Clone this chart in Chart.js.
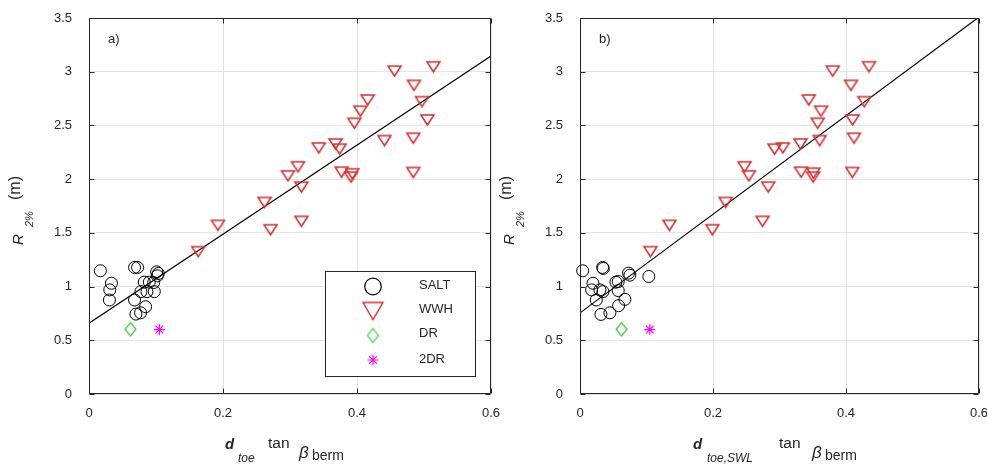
<!DOCTYPE html>
<html>
<head>
<meta charset="utf-8">
<script src="https://cdn.jsdelivr.net/npm/chart.js@4/dist/chart.umd.min.js"></script>
<style>
html, body { margin: 0; padding: 0; background: #ffffff; }
#wrap { position: relative; width: 987px; height: 465px; overflow: hidden; font-family: 'Liberation Sans', Arial, Helvetica, sans-serif; color: #262626; }
canvas { position: absolute; top: 0; }
.t { position: absolute; white-space: nowrap; line-height: 1; }
.rot { position: absolute; width: 0; height: 0; transform: rotate(-90deg); transform-origin: 0 0; }
</style>
</head>
<body>
<div id="wrap">
  <canvas id="cA" width="500" height="465" style="left:0px;width:500px;height:465px"></canvas>
  <canvas id="cB" width="496" height="465" style="left:491px;width:496px;height:465px"></canvas>
</div>
<script>
// ---------------- data ----------------
const seriesNames = ['SALT', 'WWH', 'DR', '2DR'];
const panelLabels = ['a)', 'b)'];
const xTickValues = [0, 0.2, 0.4, 0.6];
const xTickLabels = ['0', '0.2', '0.4', '0.6'];
const yTickValues = [0, 0.5, 1, 1.5, 2, 2.5, 3, 3.5];
const yTickLabels = ['0', '0.5', '1', '1.5', '2', '2.5', '3', '3.5'];

// panel a) : d_toe tan(beta_berm)
const saltX_a = [0.017, 0.0335, 0.031, 0.0305, 0.068, 0.0725, 0.068, 0.070, 0.077, 0.0845, 0.0775, 0.0825, 0.090, 0.0865, 0.0975, 0.0965, 0.101, 0.102, 0.1035];
const saltY_a = [1.147, 1.031, 0.969, 0.875, 1.178, 1.178, 0.875, 0.744, 0.756, 0.8125, 0.953, 1.041, 1.041, 0.953, 0.953, 1.0375, 1.137, 1.100, 1.122];
const wwhX_a = [0.456, 0.514, 0.485, 0.416, 0.497, 0.405, 0.505, 0.396, 0.441, 0.484, 0.343, 0.368, 0.374, 0.312, 0.297, 0.377, 0.393, 0.391, 0.484, 0.317, 0.262, 0.1925, 0.271, 0.317, 0.163];
const wwhY_a = [3.006, 3.046, 2.873, 2.737, 2.721, 2.632, 2.551, 2.520, 2.359, 2.381, 2.291, 2.328, 2.279, 2.115, 2.031, 2.065, 2.050, 2.019, 2.062, 1.926, 1.783, 1.570, 1.529, 1.607, 1.325];
const drX_a = [0.062];
const drY_a = [0.603];
const dr2X_a = [0.105];
const dr2Y_a = [0.600];

// panel b) : d_toe,SWL tan(beta_berm)
const saltX_b = [0.004, 0.0195, 0.0175, 0.0245, 0.034, 0.035, 0.0345, 0.0315, 0.045, 0.058, 0.0675, 0.0575, 0.054, 0.0575, 0.073, 0.075, 0.1035, 0.030];
const saltY_b = [1.147, 1.031, 0.969, 0.875, 1.178, 1.169, 0.953, 0.741, 0.756, 0.822, 0.881, 0.9625, 1.041, 1.047, 1.125, 1.106, 1.094, 0.969];
const wwhX_b = [0.380, 0.4345, 0.4075, 0.344, 0.4275, 0.3625, 0.410, 0.3575, 0.412, 0.3605, 0.3315, 0.2925, 0.305, 0.2475, 0.254, 0.3325, 0.351, 0.3505, 0.4095, 0.283, 0.219, 0.1345, 0.199, 0.2745, 0.106];
const wwhY_b = [3.006, 3.046, 2.873, 2.737, 2.721, 2.632, 2.551, 2.520, 2.381, 2.359, 2.328, 2.279, 2.291, 2.115, 2.031, 2.065, 2.056, 2.019, 2.062, 1.926, 1.783, 1.570, 1.529, 1.607, 1.325];
const drX_b = [0.0625];
const drY_b = [0.603];
const dr2X_b = [0.105];
const dr2Y_b = [0.600];

// linear fits R2% = intercept + slope * x  (panel a, panel b)
const fitIntercept = [0.658, 0.755];
const fitSlope = [4.147, 4.59];
const fitXRange = [0, 0.6];

// ---------------- styling ----------------
const RED = '#d42f2f';
const GREEN = '#33cc33';
const MAGENTA = '#ff00ff';
const AXIS = '#262626';
const GRID = '#e4e4e4';
const FONT = "'Liberation Sans', Arial, Helvetica, sans-serif";

function triImage(w, h, lw) {
  const c = document.createElement('canvas');
  c.width = w + 4; c.height = h + 4;
  const g = c.getContext('2d');
  g.strokeStyle = RED; g.lineWidth = lw; g.lineJoin = 'miter';
  g.beginPath(); g.moveTo(2, 2); g.lineTo(w + 2, 2); g.lineTo(w / 2 + 2, h + 2); g.closePath(); g.stroke();
  return c;
}
function diaImage(w, h, lw) {
  const c = document.createElement('canvas');
  c.width = w + 4; c.height = h + 4;
  const g = c.getContext('2d');
  g.strokeStyle = GREEN; g.lineWidth = lw;
  g.beginPath(); g.moveTo(w / 2 + 2, 2); g.lineTo(w + 2, h / 2 + 2); g.lineTo(w / 2 + 2, h + 2); g.lineTo(2, h / 2 + 2); g.closePath(); g.stroke();
  return c;
}
const triPlot = triImage(13, 10, 1.5);
const triLegend = triImage(20, 17, 1.4);
const diaPlot = diaImage(11, 13, 1.2);
const diaLegend = diaImage(11, 14, 1.2);

function pts(xs, ys) { return xs.map((x, i) => ({ x: x, y: ys[i] })); }

const framePlugin = {
  id: 'frame',
  afterDatasetsDraw(chart) {
    const { ctx, chartArea: a, scales } = chart;
    const L = Math.round(a.left) + 0.5, R = Math.round(a.right) - 0.5, T = Math.round(a.top) + 0.5, B = Math.round(a.bottom) - 0.5;
    ctx.save();
    ctx.strokeStyle = AXIS; ctx.lineWidth = 1;
    ctx.beginPath();
    ctx.rect(L, T, R - L, B - T);
    const tl = 5;
    xTickValues.forEach(v => {
      const p = Math.round(scales.x.getPixelForValue(v)) + 0.5;
      ctx.moveTo(p, B); ctx.lineTo(p, B - tl);
      ctx.moveTo(p, T); ctx.lineTo(p, T + tl);
    });
    yTickValues.forEach(v => {
      const p = Math.round(scales.y.getPixelForValue(v)) + 0.5;
      ctx.moveTo(L, p); ctx.lineTo(L + tl, p);
      ctx.moveTo(R, p); ctx.lineTo(R - tl, p);
    });
    ctx.stroke();
    ctx.restore();
  }
};

const legendPlugin = {
  id: 'boxLegend',
  afterDraw(chart) {
    if (!chart.options.plugins.boxLegend || !chart.options.plugins.boxLegend.show) return;
    const ctx = chart.ctx;
    ctx.save();
    ctx.fillStyle = '#ffffff';
    ctx.fillRect(325.5, 271.5, 150, 105);
    ctx.strokeStyle = AXIS; ctx.lineWidth = 1;
    ctx.strokeRect(325.5, 271.5, 150, 105);
    const mx = 373;
    const rows = [286.5, 311, 335.5, 360];
    const trows = [285, 309, 333, 359];
    // SALT circle
    ctx.strokeStyle = '#000'; ctx.lineWidth = 1.2;
    ctx.beginPath(); ctx.arc(mx, rows[0], 8.3, 0, Math.PI * 2); ctx.stroke();
    // WWH triangle
    ctx.drawImage(triLegend, mx - triLegend.width / 2, rows[1] - triLegend.height / 2);
    // DR diamond
    ctx.drawImage(diaLegend, mx - diaLegend.width / 2, rows[2] - diaLegend.height / 2);
    // 2DR asterisk
    ctx.strokeStyle = MAGENTA; ctx.lineWidth = 1.2;
    const r = 5.5, d = r * Math.SQRT1_2;
    ctx.beginPath();
    ctx.moveTo(mx - r, rows[3]); ctx.lineTo(mx + r, rows[3]);
    ctx.moveTo(mx, rows[3] - r); ctx.lineTo(mx, rows[3] + r);
    ctx.moveTo(mx - d, rows[3] - d); ctx.lineTo(mx + d, rows[3] + d);
    ctx.moveTo(mx - d, rows[3] + d); ctx.lineTo(mx + d, rows[3] - d);
    ctx.stroke();
    ctx.fillStyle = AXIS;
    ctx.font = '13px ' + FONT;
    ctx.textBaseline = 'middle'; ctx.textAlign = 'left';
    seriesNames.forEach((n, i) => ctx.fillText(n, 419, trows[i]));
    ctx.restore();
  }
};

function makeChart(id, p, padRight, showLegend) {
  const sets = [
    { salt: [saltX_a, saltY_a], wwh: [wwhX_a, wwhY_a], dr: [drX_a, drY_a], dr2: [dr2X_a, dr2Y_a] },
    { salt: [saltX_b, saltY_b], wwh: [wwhX_b, wwhY_b], dr: [drX_b, drY_b], dr2: [dr2X_b, dr2Y_b] }
  ][p];
  const fit = fitXRange.map(x => ({ x: x, y: fitIntercept[p] + fitSlope[p] * x }));
  return new Chart(document.getElementById(id), {
    type: 'scatter',
    data: {
      datasets: [
        { label: seriesNames[0], data: pts(sets.salt[0], sets.salt[1]), clip: false, pointStyle: 'circle', pointRadius: 6, borderColor: '#000000', backgroundColor: 'rgba(0,0,0,0)', borderWidth: 1 },
        { label: seriesNames[1], data: pts(sets.wwh[0], sets.wwh[1]), clip: false, pointStyle: triPlot, pointRadius: 7, borderColor: RED, backgroundColor: 'rgba(0,0,0,0)' },
        { label: seriesNames[2], data: pts(sets.dr[0], sets.dr[1]), clip: false, pointStyle: diaPlot, pointRadius: 7, borderColor: GREEN, backgroundColor: 'rgba(0,0,0,0)' },
        { label: seriesNames[3], data: pts(sets.dr2[0], sets.dr2[1]), clip: false, pointStyle: 'star', pointRadius: 5.5, borderColor: MAGENTA, backgroundColor: MAGENTA, borderWidth: 1.2 },
        { label: 'fit', type: 'line', data: fit, showLine: true, fill: false, pointRadius: 0, borderColor: '#000000', borderWidth: 1.2 }
      ]
    },
    options: {
      responsive: false, animation: false, events: [],
      layout: { padding: { top: 18, left: 0, right: padRight, bottom: 0 } },
      plugins: { legend: { display: false }, tooltip: { enabled: false }, boxLegend: { show: showLegend } },
      scales: {
        x: {
          type: 'linear', min: 0, max: 0.6,
          afterBuildTicks: s => { s.ticks = xTickValues.map(v => ({ value: v })); },
          afterFit: s => { s.height = 71; s.paddingLeft = 0; s.paddingRight = 0; },
          ticks: { callback: (v, i) => xTickLabels[i], padding: 12, maxRotation: 0, autoSkip: false, color: AXIS, font: { family: FONT, size: 13 } },
          grid: { color: GRID, lineWidth: 1, drawTicks: false },
          border: { display: false }
        },
        y: {
          type: 'linear', min: 0, max: 3.5,
          afterBuildTicks: s => { s.ticks = yTickValues.map(v => ({ value: v })); },
          afterFit: s => { s.width = 89; s.paddingTop = 0; s.paddingBottom = 0; },
          ticks: { callback: (v, i) => yTickLabels[i], padding: 17, autoSkip: false, color: AXIS, font: { family: FONT, size: 13 } },
          grid: { color: GRID, lineWidth: 1, drawTicks: false },
          border: { display: false }
        }
      }
    },
    plugins: [framePlugin, legendPlugin]
  });
}

makeChart('cA', 0, 9, true);
makeChart('cB', 1, 6, false);

// ---------------- HTML text (titles) ----------------
const wrap = document.getElementById('wrap');
function put(parent, text, x, baseline, size, style) {
  const s = document.createElement('span');
  s.className = 't';
  s.textContent = text;
  s.style.left = x + 'px';
  s.style.top = (baseline - 0.8465 * size) + 'px';
  s.style.fontSize = size + 'px';
  if (style) Object.assign(s.style, style);
  parent.appendChild(s);
  return s;
}
const IT = { fontStyle: 'italic' };
const BI = { fontStyle: 'italic', fontWeight: 'bold' };

// panel labels
put(wrap, panelLabels[0], 108, 43, 13);
put(wrap, panelLabels[1], 599, 43, 13);

// x titles
const xTitleParts = [
  [['d', 225, 449, 15, BI], ['toe', 238, 462, 12, IT], ['tan', 268, 448, 15.5, null], ['\u03B2', 299, 458, 17, IT], ['berm', 312, 460, 14, null]],
  [['d', 693, 449, 15, BI], ['toe,SWL', 707, 462, 12, IT], ['tan', 779, 448, 15.5, null], ['\u03B2', 812, 458, 17, IT], ['berm', 825, 460, 14, null]]
];
xTitleParts.forEach(parts => parts.forEach(q => put(wrap, q[0], q[1], q[2], q[3], q[4])));

// y titles (rotated)
[0, 491].forEach(off => {
  const r = document.createElement('div');
  r.className = 'rot';
  r.style.left = off + 'px';
  r.style.top = '250px';
  wrap.appendChild(r);
  put(r, 'R', 5, 23, 15, IT);
  put(r, '2%', 23, 33, 11, IT);
  put(r, '(m)', 50, 20.5, 16, null);
});
</script>
</body>
</html>
